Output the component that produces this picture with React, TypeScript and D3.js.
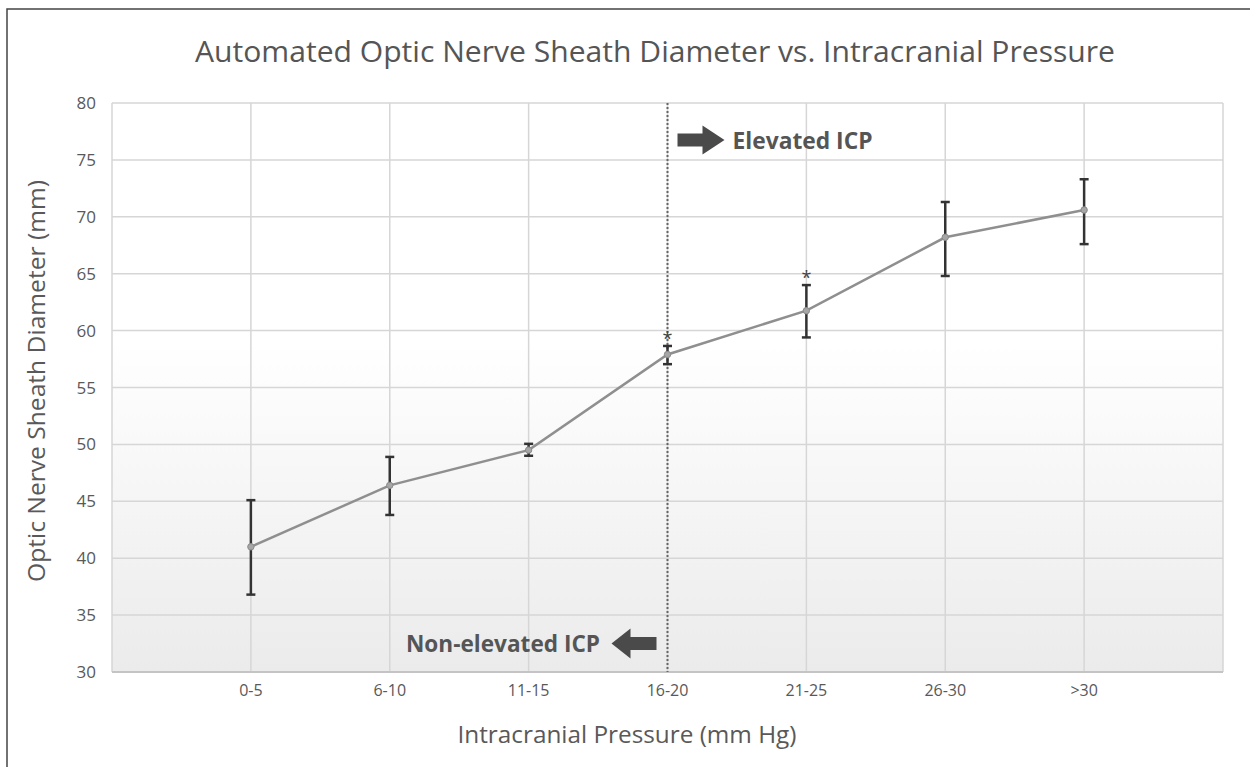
import React from "react";
import * as d3 from "d3";

const categories = ["0-5", "6-10", "11-15", "16-20", "21-25", "26-30", ">30"];
const means = [41.0, 46.4, 49.5, 57.9, 61.75, 68.2, 70.6];
const upper = [45.1, 48.9, 50.05, 58.65, 64.0, 71.3, 73.3];
const lower = [36.8, 43.8, 49.0, 57.05, 59.4, 64.8, 67.6];
const significant = [false, false, false, true, true, false, false];
const yTicks = [30, 35, 40, 45, 50, 55, 60, 65, 70, 75, 80];
const thresholdCategory = "16-20";

const W = 1250;
const H = 767;
const left = 112;
const right = 1223;
const top = 103;
const bottom = 672;

export default function App() {
  const x = d3.scalePoint<string>().domain(categories).range([left, right]).padding(1);
  const y = d3.scaleLinear().domain([30, 80]).range([bottom, top]);
  const step = x.step();
  const vGrid = d3.range(categories.length + 2).map((i) => left + i * step);
  const line = d3
    .line<number>()
    .x((_, i) => x(categories[i]) as number)
    .y((d) => y(d));
  const font = "'Open Sans', 'Noto Sans', sans-serif";
  const tx = x(thresholdCategory) as number;
  const elevY = 140;
  const nonY = 643.5;
  return (
    <svg
      width={W}
      height={H}
      style={{ position: "absolute", left: 0, top: 0, background: "#fff" }}
    >
      <defs>
        <linearGradient id="bg" x1="0" y1="0" x2="0" y2="1">
          <stop offset="0" stopColor="#ffffff" />
          <stop offset="0.42" stopColor="#ffffff" />
          <stop offset="1" stopColor="#ebebeb" />
        </linearGradient>
      </defs>
      <rect x={7} y={9} width={1260} height={800} fill="none" stroke="#444" strokeWidth={1.5} />
      <text
        x={655}
        y={62}
        textAnchor="middle"
        fontFamily={font}
        fontSize={29}
        textLength={920}
        lengthAdjust="spacingAndGlyphs"
        fill="#555"
      >
        Automated Optic Nerve Sheath Diameter vs. Intracranial Pressure
      </text>
      <rect x={left} y={top} width={right - left} height={bottom - top} fill="url(#bg)" />
      {yTicks.map((t) => (
        <line key={"h" + t} x1={left} x2={right} y1={y(t)} y2={y(t)} stroke="#d6d6d6" strokeWidth={1.5} />
      ))}
      {vGrid.map((gx, i) => (
        <line key={"v" + i} x1={gx} x2={gx} y1={top} y2={bottom} stroke="#d6d6d6" strokeWidth={1.5} />
      ))}
      <line x1={left} x2={right} y1={bottom} y2={bottom} stroke="#c4c4c4" strokeWidth={2} />
      {yTicks.map((t) => (
        <text key={"yt" + t} x={96} y={y(t) + 6} textAnchor="end" fontFamily={font} fontSize={17} fill="#595959">
          {t}
        </text>
      ))}
      {categories.map((c) => (
        <text key={"xt" + c} x={x(c) as number} y={696} textAnchor="middle" fontFamily={font} fontSize={16} fill="#595959">
          {c}
        </text>
      ))}
      <text x={627} y={743} textAnchor="middle" fontFamily={font} fontSize={24} textLength={339} lengthAdjust="spacingAndGlyphs" fill="#595959">
        Intracranial Pressure (mm Hg)
      </text>
      <text
        transform={`translate(45,381) rotate(-90)`}
        textAnchor="middle"
        fontFamily={font}
        fontSize={24}
        textLength={402}
        lengthAdjust="spacingAndGlyphs"
        fill="#595959"
      >
        Optic Nerve Sheath Diameter (mm)
      </text>
      <line x1={tx} x2={tx} y1={top} y2={bottom} stroke="#666" strokeWidth={2} strokeDasharray="2,2" />
      <path d={line(means) || ""} fill="none" stroke="#8f8f8f" strokeWidth={2.5} />
      {categories.map((c, i) => {
        const cx = x(c) as number;
        return (
          <g key={"e" + c}>
            <line x1={cx} x2={cx} y1={y(upper[i])} y2={y(lower[i])} stroke="#333" strokeWidth={2.5} />
            <line x1={cx - 4.5} x2={cx + 4.5} y1={y(upper[i])} y2={y(upper[i])} stroke="#333" strokeWidth={2.5} />
            <line x1={cx - 4.5} x2={cx + 4.5} y1={y(lower[i])} y2={y(lower[i])} stroke="#333" strokeWidth={2.5} />
            <circle cx={cx} cy={y(means[i])} r={3.2} fill="#a6a6a6" stroke="#8a8a8a" strokeWidth={1} />
            {significant[i] && (
              <text x={cx} y={y(upper[i]) - 1} textAnchor="middle" fontFamily={font} fontSize={18} fill="#444">
                *
              </text>
            )}
          </g>
        );
      })}
      <path
        d={`M${tx + 10},${elevY - 6.5} L${tx + 35},${elevY - 6.5} L${tx + 35},${elevY - 14.5} L${tx + 57},${elevY} L${tx + 35},${elevY + 14.5} L${tx + 35},${elevY + 6.5} L${tx + 10},${elevY + 6.5} Z`}
        fill="#4a4a4a"
      />
      <text x={tx + 65} y={149} fontFamily={font} fontWeight="bold" fontSize={23} textLength={140} lengthAdjust="spacingAndGlyphs" fill="#555">
        Elevated ICP
      </text>
      <path
        d={`M${tx - 11},${nonY - 6.5} L${tx - 37},${nonY - 6.5} L${tx - 37},${nonY - 15} L${tx - 56},${nonY} L${tx - 37},${nonY + 15} L${tx - 37},${nonY + 6.5} L${tx - 11},${nonY + 6.5} Z`}
        fill="#4a4a4a"
      />
      <text x={600} y={652} textAnchor="end" fontFamily={font} fontWeight="bold" fontSize={23} textLength={194} lengthAdjust="spacingAndGlyphs" fill="#555">
        Non-elevated ICP
      </text>
    </svg>
  );
}
